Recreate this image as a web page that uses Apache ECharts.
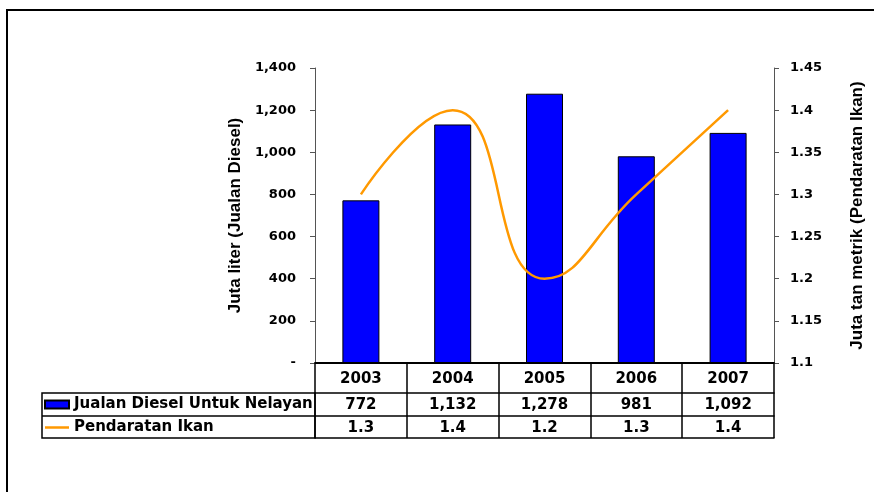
<!DOCTYPE html>
<html>
<head>
<meta charset="utf-8">
<script src="https://cdn.jsdelivr.net/npm/echarts@6/dist/echarts.min.js"></script>
<style>
  html, body { margin: 0; padding: 0; background: #fff; }
  #chart { width: 874px; height: 492px; }
</style>
</head>
<body>
<div id="chart"></div>
<script>
// data
const years = ['2003', '2004', '2005', '2006', '2007'];
const diesel = [772, 1132, 1278, 981, 1092];      // Juta liter
const landing = [1.3, 1.4, 1.2, 1.3, 1.4];        // Juta tan metrik
const dieselName = 'Jualan Diesel Untuk Nelayan';
const landingName = 'Pendaratan Ikan';
const leftAxis = { min: 0, max: 1400, interval: 200 };
const rightAxis = { min: 1.1, max: 1.45, interval: 0.05 };

const BOLD = 'DejaVu Sans';
const NAMEFONT = 'Liberation Sans';

const fmtThousand = v => v.toLocaleString('en-US');

const chart = echarts.init(document.getElementById('chart'));

// one row of the data table under the plot = a category axis with its own labels
function tableRow(offset, values, fmt) {
  return {
    type: 'category',
    data: years,
    position: 'bottom',
    offset: offset,
    axisLine: { show: true, lineStyle: { color: '#000', width: 1.5 } },
    axisTick: { show: false },
    axisLabel: {
      show: !!values,
      margin: 5,
      fontFamily: BOLD, fontWeight: 'bold', fontSize: 15, color: '#000',
      formatter: (v, i) => values ? fmt(values[i]) : ''
    },
    splitLine: { show: false }
  };
}

const option = {
  animation: false,
  backgroundColor: '#fff',
  grid: { left: 315, right: 98, top: 68, bottom: 129, containLabel: false },
  legend: {
    orient: 'vertical',
    left: 44, top: 397,
    padding: 0,
    itemGap: 8,
    itemWidth: 24, itemHeight: 8,
    textStyle: { fontFamily: BOLD, fontWeight: 'bold', fontSize: 15, color: '#000', lineHeight: 15 },
    data: [
      { name: dieselName, icon: 'rect' },
      { name: landingName, icon: 'path://M0,0 L24,0 L24,2.5 L0,2.5 Z' }
    ]
  },
  xAxis: [
    {
      type: 'category',
      data: years,
      position: 'bottom',
      axisLine: { show: true, lineStyle: { color: '#000', width: 2 } },
      axisTick: { show: true, inside: false, length: 75, interval: 0, lineStyle: { color: '#000', width: 1.5 } },
      axisLabel: { margin: 9, fontFamily: BOLD, fontWeight: 'bold', fontSize: 15, color: '#000' },
      splitLine: { show: false }
    },
    tableRow(30, diesel, fmtThousand),
    tableRow(53, landing, v => v.toFixed(1)),
    tableRow(75, null, null)
  ],
  yAxis: [
    {
      type: 'value',
      position: 'left',
      min: leftAxis.min, max: leftAxis.max, interval: leftAxis.interval,
      name: 'Juta liter (Jualan Diesel)',
      nameLocation: 'middle',
      nameRotate: 90,
      nameGap: 66,
      nameTextStyle: { fontFamily: NAMEFONT, fontWeight: 'bold', fontSize: 17, color: '#000' },
      axisLine: { show: true, lineStyle: { color: '#555', width: 1 } },
      axisTick: { show: true, inside: false, length: 5, lineStyle: { color: '#555' } },
      axisLabel: {
        margin: 19,
        fontFamily: BOLD, fontWeight: 'bold', fontSize: 13, color: '#000',
        formatter: v => v === 0 ? '-' : fmtThousand(v)
      },
      splitLine: { show: false }
    },
    {
      type: 'value',
      position: 'right',
      min: rightAxis.min, max: rightAxis.max, interval: rightAxis.interval,
      name: 'Juta tan metrik (Pendaratan Ikan)',
      nameLocation: 'middle',
      nameRotate: 90,
      nameGap: 75,
      nameTextStyle: { fontFamily: NAMEFONT, fontWeight: 'bold', fontSize: 17, color: '#000' },
      axisLine: { show: true, lineStyle: { color: '#555', width: 1 } },
      axisTick: { show: true, inside: false, length: 5, lineStyle: { color: '#555' } },
      axisLabel: {
        margin: 16,
        fontFamily: BOLD, fontWeight: 'bold', fontSize: 13, color: '#000',
        formatter: v => String(+v.toFixed(2))
      },
      splitLine: { show: false }
    }
  ],
  series: [
    {
      name: dieselName,
      type: 'bar',
      xAxisIndex: 0, yAxisIndex: 0,
      data: diesel,
      barWidth: 37,
      itemStyle: { color: '#0000FF', borderColor: '#000', borderWidth: 1 }
    },
    {
      name: landingName,
      type: 'line',
      xAxisIndex: 0, yAxisIndex: 1,
      data: landing,
      smooth: 0.5,
      symbol: 'none',
      lineStyle: { color: '#FF9900', width: 2.5 },
      itemStyle: { color: '#FF9900' },
      z: 5
    }
  ],
  graphic: [
    // chart frame, cut by the window at right and bottom
    { type: 'rect', z: -1, shape: { x: 7, y: 10, width: 900, height: 600 },
      style: { fill: 'none', stroke: '#000', lineWidth: 2 } },
    // legend column of the data table
    { type: 'rect', shape: { x: 42, y: 393, width: 273, height: 45 },
      style: { fill: 'none', stroke: '#000', lineWidth: 1.5 } },
    { type: 'line', shape: { x1: 42, y1: 416, x2: 315, y2: 416 },
      style: { stroke: '#000', lineWidth: 1.5 } }
  ]
};

chart.setOption(option);
</script>
</body>
</html>
